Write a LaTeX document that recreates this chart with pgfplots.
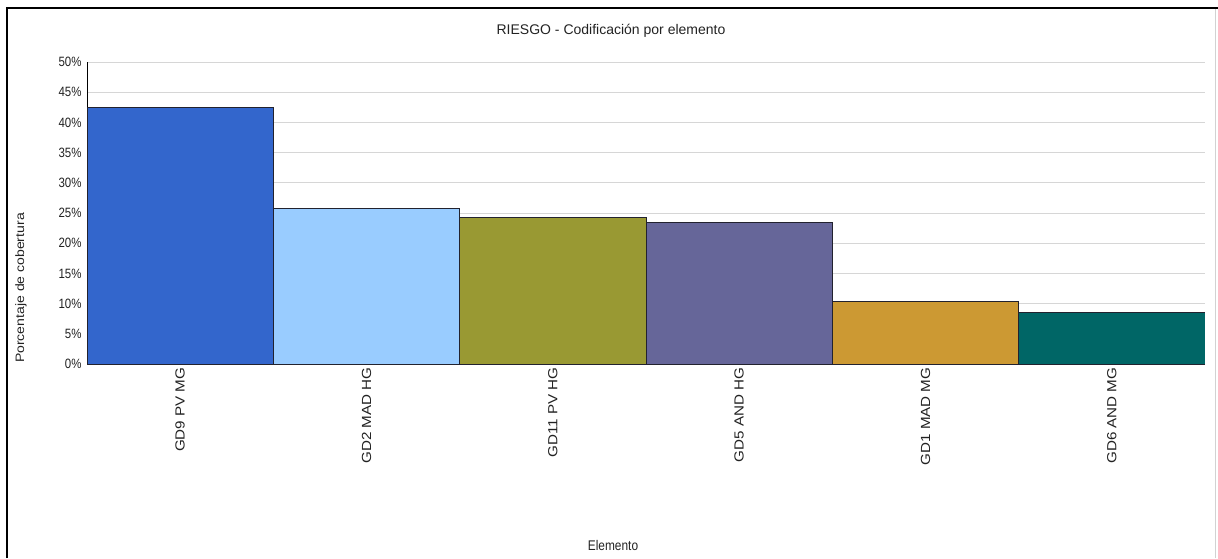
\documentclass[border=0pt]{standalone}
\usepackage{pgfplots}
\pgfplotsset{compat=1.18}
\usepackage{fontspec}
\setmainfont{Liberation Sans}
\newfontfamily\narrowfont[FakeStretch=0.85]{Liberation Sans}
\newfontfamily\tallfont[FakeStretch=1.15]{Liberation Sans}

\definecolor{txt}{HTML}{222222}
\definecolor{gridc}{HTML}{D6D6D6}
\definecolor{edge}{HTML}{22222E}
\definecolor{cA}{HTML}{3366CC}
\definecolor{cB}{HTML}{99CCFF}
\definecolor{cC}{HTML}{999933}
\definecolor{cD}{HTML}{666699}
\definecolor{cE}{HTML}{CC9933}
\definecolor{cF}{HTML}{006666}

\begin{document}
\begin{tikzpicture}[x=1pt,y=1pt]
\useasboundingbox (0,0) rectangle (1218,558);
% outer frame
\draw[black, line width=1.3pt] (7,0) -- (7,550) -- (1218,550);
\draw[gray!35, line width=1pt] (1215,0) -- (1215,549);

\begin{axis}[
  at={(87pt,194pt)}, anchor=south west,
  scale only axis,
  width=1118pt, height=302pt,
  xmin=-0.5, xmax=5.5,
  ymin=0, ymax=50,
  axis x line*=bottom,
  axis y line*=left,
  axis line style={black, line width=0.9pt, -},
  major tick length=0pt,
  ytick={0,5,...,50},
  yticklabel={\pgfmathprintnumber{\tick}\%},
  /pgf/number format/assume math mode=true,
  yticklabel style={font=\narrowfont\fontsize{13.5}{14}\selectfont, text=txt, xshift=-2pt},
  xtick={0,...,5},
  xticklabels={GD9 PV MG, GD2 MAD HG, GD11 PV HG, GD5 AND HG, GD1 MAD MG, GD6 AND MG},
  xticklabel style={rotate=90, anchor=east, font=\tallfont\fontsize{13.2}{14}\selectfont, text=txt},
  ymajorgrids,
  grid style={gridc, line width=1pt},
  axis on top=false,
  every axis plot/.append style={ybar, bar shift=0pt, bar width=1, draw=edge, line width=0.9pt},
]
\addplot[fill=cA, ybar, bar shift=0pt] coordinates {(0,42.5)};
\addplot[fill=cB, ybar, bar shift=0pt] coordinates {(1,25.8)};
\addplot[fill=cC, ybar, bar shift=0pt] coordinates {(2,24.3)};
\addplot[fill=cD, ybar, bar shift=0pt] coordinates {(3,23.4)};
\addplot[fill=cE, ybar, bar shift=0pt] coordinates {(4,10.3)};
\addplot[fill=cF, ybar, bar shift=0pt] coordinates {(5,8.6)};
\end{axis}

\node[text=txt, font=\fontsize{14}{16}\selectfont] at (611,527) {RIESGO - Codificación por elemento};
\node[text=txt, rotate=90, font=\tallfont\fontsize{12.2}{14}\selectfont] at (21,270) {Porcentaje de cobertura};
\node[text=txt, font=\narrowfont\fontsize{14}{16}\selectfont] at (613,13) {Elemento};
\end{tikzpicture}
\end{document}
